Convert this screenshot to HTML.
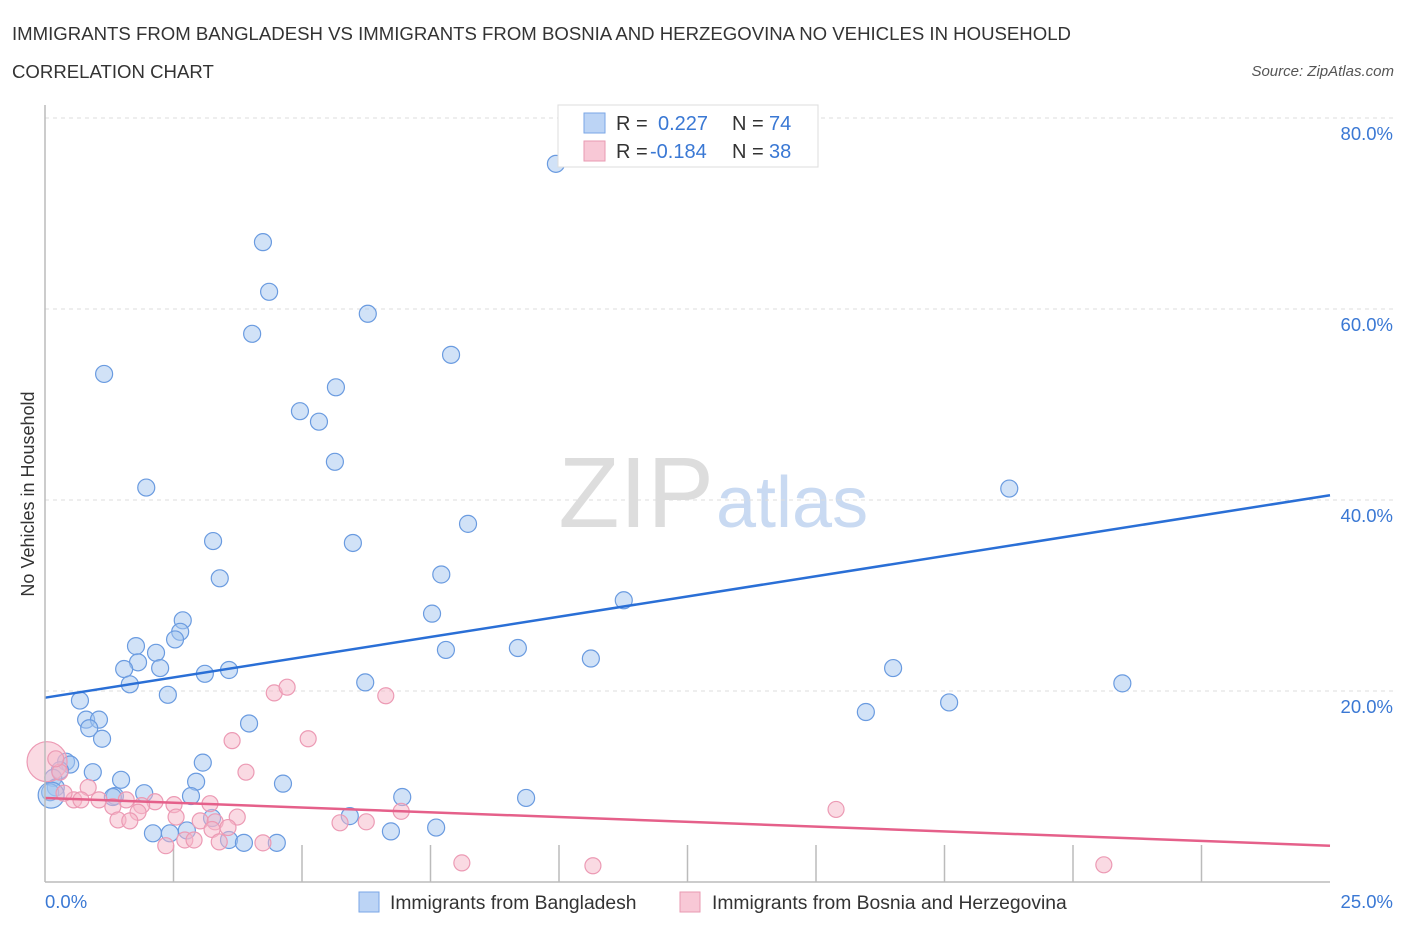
<!DOCTYPE html>
<html><head><meta charset="utf-8"><style>
body{margin:0;background:#fff;font-family:"Liberation Sans",sans-serif;}
svg text{font-family:"Liberation Sans",sans-serif;}
</style></head><body>
<svg width="1406" height="930" xmlns="http://www.w3.org/2000/svg" id="chart">
<text x="12" y="40" font-size="18.6" fill="#333">IMMIGRANTS FROM BANGLADESH VS IMMIGRANTS FROM BOSNIA AND HERZEGOVINA NO VEHICLES IN HOUSEHOLD</text>
<text x="12" y="78" font-size="18.6" fill="#333">CORRELATION CHART</text>
<text x="1394" y="76" font-size="15" fill="#555" font-style="italic" text-anchor="end">Source: ZipAtlas.com</text>
<text x="34" y="494" font-size="18" fill="#333" text-anchor="middle" transform="rotate(-90 34 494)">No Vehicles in Household</text>
<text x="714" y="527" font-size="100" fill="#ddd" text-anchor="end" font-family="Liberation Serif">ZIP</text>
<text x="716" y="527" font-size="72" fill="#c9daf2">atlas</text>
<g id="grid"></g><g id="ticks"></g><g id="pts"></g><g id="lines"></g>
<line x1="45" y1="105" x2="45" y2="882" stroke="#bbb" stroke-width="1.5"/>
<line x1="45" y1="882" x2="1330" y2="882" stroke="#bbb" stroke-width="1.5"/>
<text x="45" y="908" font-size="18.5" fill="#3a78d4">0.0%</text>
<text x="1393" y="908" font-size="18.5" fill="#3a78d4" text-anchor="end">25.0%</text>
<g>
<rect x="558" y="105" width="260" height="62" fill="#fff" stroke="#ddd"/>
<rect x="584" y="113" width="21" height="20" fill="#bcd4f5" stroke="#7aa6e6"/>
<rect x="584" y="141" width="21" height="20" fill="#f8c8d6" stroke="#e89ab2"/>
<text x="616" y="130" font-size="20" fill="#333">R = </text><text x="658" y="130" font-size="20" fill="#3a78d4">0.227</text>
<text x="732" y="130" font-size="20" fill="#333">N = </text><text x="769" y="130" font-size="20" fill="#3a78d4">74</text>
<text x="616" y="158" font-size="20" fill="#333">R = </text><text x="650" y="158" font-size="20" fill="#3a78d4">-0.184</text>
<text x="732" y="158" font-size="20" fill="#333">N = </text><text x="769" y="158" font-size="20" fill="#3a78d4">38</text>
</g>
<g>
<rect x="359" y="892" width="20" height="20" fill="#bcd4f5" stroke="#7aa6e6"/>
<text x="390" y="909" font-size="19.3" fill="#333">Immigrants from Bangladesh</text>
<rect x="680" y="892" width="20" height="20" fill="#f8c8d6" stroke="#e89ab2"/>
<text x="712" y="909" font-size="19.3" fill="#333">Immigrants from Bosnia and Herzegovina</text>
</g>
</svg>
<script>
const yTicks=[20,40,60,80];
const xTickCount=10;
const blueX=[9.94,4.24,4.36,6.28,4.03,7.9,1.15,5.66,4.96,5.33,5.64,1.97,18.76,8.23,3.27,5.99,3.4,7.71,11.26,7.53,2.68,2.63,1.77,2.53,2.16,7.8,9.2,10.62,1.81,1.54,2.24,16.5,1.65,6.23,20.96,2.39,0.68,3.11,3.58,17.59,15.97,3.97,0.8,1.05,0.86,1.11,0.41,0.49,0.29,0.93,1.48,3.07,0.16,0.21,0.1,2.94,4.63,1.93,1.36,2.84,6.95,9.36,5.93,3.25,1.32,2.1,2.43,2.76,3.58,3.87,4.51,6.73,7.61,0.12];
const blueY=[75.2,67.0,61.8,59.5,57.4,55.2,53.2,51.8,49.3,48.2,44.0,41.3,41.2,37.5,35.7,35.5,31.8,32.2,29.5,28.1,27.4,26.2,24.7,25.4,24.0,24.3,24.5,23.4,23.0,22.3,22.4,22.4,20.7,20.9,20.8,19.6,19.0,21.8,22.2,18.8,17.8,16.6,17.0,17.0,16.1,15.0,12.6,12.3,11.7,11.5,10.7,12.5,10.9,9.9,9.4,10.5,10.3,9.3,9.0,9.0,8.9,8.8,6.9,6.7,8.9,5.1,5.1,5.4,4.4,4.1,4.1,5.3,5.7,9.1];
const pinkX=[0.04,0.29,0.21,0.56,0.37,0.84,0.7,1.05,1.58,1.32,2.14,1.88,1.81,1.42,1.65,2.51,3.21,2.55,3.02,3.64,4.46,4.71,5.12,6.63,3.91,3.74,3.31,3.25,3.56,2.72,2.35,2.9,4.24,5.74,6.25,6.93,8.11,10.66,15.39,20.6,3.39];
const pinkY=[12.6,11.5,12.9,8.6,9.3,9.9,8.6,8.6,8.6,7.9,8.4,8.0,7.3,6.5,6.4,8.1,8.2,6.8,6.4,14.8,19.8,20.4,15.0,19.5,11.5,6.8,6.3,5.5,5.7,4.4,3.8,4.4,4.1,6.2,6.3,7.4,2.0,1.7,7.6,1.8,4.2];
const pinkR=[20,8,8,8,8,8,8,8,8,8,8,8,8,8,8,8,8,8,8,8,8,8,8,8,8,8,8,8,8,8,8,8,8,8,8,8,8,8,8,8,8];
const trendBlue=[19.3,40.5];
const trendPink=[8.8,3.8];
const X=v=>45+v/25*1285, Y=v=>882-v/20*191;
const NS='http://www.w3.org/2000/svg';
function mk(t,a,p){const e=document.createElementNS(NS,t);for(const k in a)e.setAttribute(k,a[k]);document.getElementById(p).appendChild(e);return e;}
yTicks.forEach(t=>{
 const l=mk('line',{x1:45,x2:1395,y1:Y(t),y2:Y(t),stroke:'#ddd','stroke-dasharray':'4,4'},'grid');
 
 
 const tx=mk('text',{x:1393,y:Y(t)+22,'font-size':18.5,fill:'#3a78d4','text-anchor':'end'},'grid');
 tx.textContent=t.toFixed(1)+'%';
 
 
});
for(let i=1;i<xTickCount;i++){
 const l=mk('line',{x1:X(i*2.5),x2:X(i*2.5),y1:845,y2:882,stroke:'#bbb','stroke-width':1.5},'ticks');
 
 
}
blueX.forEach((v,i)=>{
 const c=mk('circle',{cx:X(v),cy:Y(blueY[i]),r:(i==blueX.length-1?13:8.5),fill:'rgba(164,198,240,0.5)',stroke:'#6a9be0','stroke-width':1.2},'pts');
 
 
});
pinkX.forEach((v,i)=>{
 const c=mk('circle',{cx:X(v),cy:Y(pinkY[i]),r:pinkR[i],fill:'rgba(246,182,200,0.5)',stroke:'#ec9ab4','stroke-width':1.2},'pts');
 
 
});
const bl=mk('line',{x1:X(0),y1:Y(trendBlue[0]),x2:X(25),y2:Y(trendBlue[1]),stroke:'#2a6fd6','stroke-width':2.5},'lines');


const pl=mk('line',{x1:X(0),y1:Y(trendPink[0]),x2:X(25),y2:Y(trendPink[1]),stroke:'#e5608a','stroke-width':2.5},'lines');


</script>
</body></html>
